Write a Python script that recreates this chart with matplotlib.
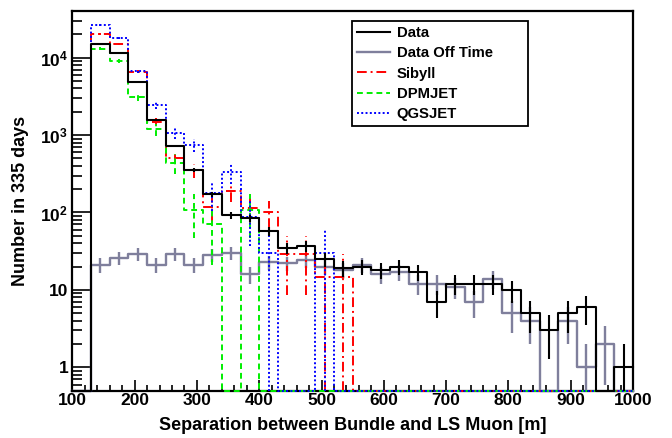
import numpy as np
import matplotlib
matplotlib.use('Agg')
import matplotlib.pyplot as plt
from matplotlib.lines import Line2D
from matplotlib.ticker import MultipleLocator, LogLocator, NullFormatter

plt.rcParams['font.family'] = ['Liberation Sans', 'DejaVu Sans']
plt.rcParams['font.weight'] = 'bold'
plt.rcParams['mathtext.fontset'] = 'custom'
plt.rcParams['mathtext.rm'] = 'Liberation Sans:bold'
plt.rcParams['mathtext.default'] = 'rm'

# Bordes de los bines (100 a 1000 m, 30 m de ancho)
bordes = np.arange(100, 1001, 30)

# Cuentas por bin
datos = [0, 15000, 11500, 4800, 1570, 723, 353, 172, 92, 84,
         57, 35, 37, 25, 19, 20, 18, 20, 17, 7,
         12, 12, 12, 10, 5, 3, 5, 6, 0, 1]
fuera_tiempo = [0, 21, 26, 29, 21, 29, 21, 28, 30, 16,
                23, 22, 24, 20, 18, 21, 16, 17, 12, 12,
                11, 7, 14, 5, 4, 0, 4, 1, 2, 0]
sibyll = [0, 20200, 14850, 6600, 1490, 507, 350, 116, 190, 113,
          101, 29, 29, 14.5, 14.5, 0, 0, 0, 0, 0,
          0, 0, 0, 0, 0, 0, 0, 0, 0, 0]
dpmjet = [0, 13060, 9150, 3100, 1180, 440, 109, 72, 0, 109,
          0, 0, 0, 0, 0, 0, 0, 0, 0, 0,
          0, 0, 0, 0, 0, 0, 0, 0, 0, 0]
qgsjet = [0, 26100, 18100, 6710, 2430, 1064, 745, 178, 330, 88,
          30, 0, 0, 30, 0, 0, 0, 0, 0, 0,
          0, 0, 0, 0, 0, 0, 0, 0, 0, 0]

# Peso por evento simulado (para las barras de error de Poisson)
peso_sibyll = 14.5
peso_dpmjet = 36.0
peso_qgsjet = 29.6

y_min, y_max = 0.5, 4e4

fig = plt.figure(figsize=(6.72, 4.38), dpi=100)
ax = fig.add_axes([0.1076, 0.108, 0.8344, 0.867])
ax.set_yscale('log')


def dibujar_hist(ax, valores, color, estilo, grosor, peso):
    v = np.asarray(valores, dtype=float)
    xs = np.repeat(bordes, 2)[1:-1]
    ys = np.repeat(np.maximum(v, y_min), 2)
    ax.plot(xs, ys, color=color, linestyle=estilo, linewidth=grosor, zorder=3, clip_on=False)
    # barras de error en el centro de cada bin no vacio
    centros = 0.5 * (bordes[:-1] + bordes[1:])
    m = v > 0
    err = np.sqrt(v[m] * peso)
    bajo = np.maximum(v[m] - err, y_min)
    alto = v[m] + err
    ax.vlines(centros[m], bajo, alto, colors=color, linestyles=estilo, linewidths=grosor, zorder=3)


gris = '#7f7f9c'
dibujar_hist(ax, fuera_tiempo, gris, '-', 1.7, 1.0)
dibujar_hist(ax, sibyll, '#ff0000', (0, (5, 2, 1, 2)), 1.4, peso_sibyll)
dibujar_hist(ax, dpmjet, '#00ee00', (0, (3, 2)), 1.4, peso_dpmjet)
dibujar_hist(ax, qgsjet, '#0000ff', (0, (1, 1.2)), 1.4, peso_qgsjet)
dibujar_hist(ax, datos, 'black', '-', 1.5, 1.0)

ax.set_xlim(100, 1000)
ax.set_ylim(y_min, y_max)

ax.xaxis.set_major_locator(MultipleLocator(100))
ax.xaxis.set_minor_locator(MultipleLocator(20))
ax.set_yticks([1, 10, 100, 1000, 10000])
ax.set_yticklabels(['1', '10', '$10^{2}$', '$10^{3}$', '$10^{4}$'])
ax.yaxis.set_minor_locator(LogLocator(base=10, subs=np.arange(2, 10)))
ax.yaxis.set_minor_formatter(NullFormatter())

ax.tick_params(axis='both', which='both', direction='in', top=False, right=False, labelsize=12.5, width=1.2)
ax.tick_params(axis='x', which='major', length=8, pad=2)
ax.tick_params(axis='x', which='minor', length=4)
ax.tick_params(axis='y', which='major', length=13, pad=3)
ax.tick_params(axis='y', which='minor', length=7)
for lado in ax.spines.values():
    lado.set_linewidth(1.6)

ax.set_xlabel('Separation between Bundle and LS Muon [m]', fontsize=13, fontweight='bold', labelpad=6)
ax.set_ylabel('Number in 335 days', fontsize=13, fontweight='bold', labelpad=8)

entradas = [
    Line2D([], [], color='black', linestyle='-', linewidth=1.5),
    Line2D([], [], color=gris, linestyle='-', linewidth=1.7),
    Line2D([], [], color='#ff0000', linestyle=(0, (5, 2, 1, 2)), linewidth=1.4),
    Line2D([], [], color='#00ee00', linestyle=(0, (3, 2)), linewidth=1.4),
    Line2D([], [], color='#0000ff', linestyle=(0, (1, 1.2)), linewidth=1.4),
]
nombres = ['Data', 'Data Off Time', 'Sibyll', 'DPMJET', 'QGSJET']
ley = ax.legend(entradas, nombres, loc='upper left', bbox_to_anchor=(0.499, 0.70, 0.314, 0.274),
                mode='expand', borderaxespad=0, fancybox=False, framealpha=1,
                edgecolor='black', fontsize=10.7, handlelength=2.2, handletextpad=0.45,
                labelspacing=0.42, borderpad=0.35, prop={'weight': 'bold', 'size': 10.7})
ley.get_frame().set_linewidth(1.3)

fig.savefig('out.png', dpi=100)
